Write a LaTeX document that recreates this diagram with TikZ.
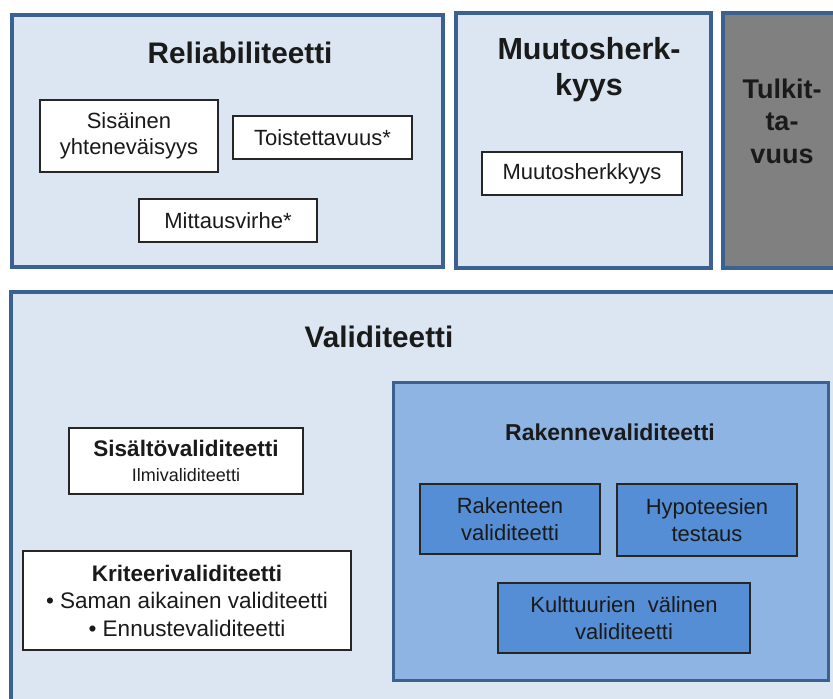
\documentclass[tikz,border=0pt]{standalone}
\usepackage{fontspec}
\setmainfont{Liberation Sans}
\definecolor{lightfill}{HTML}{DCE6F2}
\definecolor{frameblue}{HTML}{3A6190}
\definecolor{midfill}{HTML}{8EB4E3}
\definecolor{darkfill}{HTML}{558ED5}
\definecolor{grayfill}{HTML}{808080}
\definecolor{txt}{HTML}{1A1A1A}
\tikzset{
  x=1pt, y=-1pt,
  outerbox/.style={draw=frameblue, line width=3.5pt, fill=lightfill},
  whitebox/.style={draw=black!85, line width=1.2pt, fill=white, align=center, text=txt, inner sep=0pt},
  bluebox/.style={draw=black!85, line width=1.2pt, fill=darkfill, align=center, text=txt, inner sep=0pt},
  bigtitle/.style={font=\fontsize{29.7}{36}\selectfont\bfseries, align=center, text=txt, inner sep=0pt},
  midtitle/.style={font=\fontsize{23}{28}\selectfont\bfseries, align=center, text=txt, inner sep=0pt},
  bodytext/.style={font=\fontsize{22}{26.5}\selectfont},
}
\begin{document}
\begin{tikzpicture}
\useasboundingbox (0,0) rectangle (833,699);
\fill[white] (0,0) rectangle (833,699);
\begin{scope}
\clip (0,0) rectangle (833,699);
% top row boxes
\draw[outerbox] (12,15) rectangle (443,267);
\draw[outerbox] (456,13) rectangle (711,268);
\draw[outerbox, fill=grayfill] (723,13) rectangle (850,268);
% validiteetti
\draw[outerbox] (11,292) rectangle (850,720);
\draw[outerbox, fill=midfill, line width=3pt] (393,382) rectangle (828,680);
\end{scope}

% Reliabiliteetti
\node[bigtitle] (reltitle) at (240,53) {Reliabiliteetti};
\node[whitebox, bodytext, minimum width=178pt, minimum height=72pt] (sis) at (129,136) {Sisäinen\\yhteneväisyys};
\node[whitebox, bodytext, minimum width=179pt, minimum height=43pt] (toist) at (322.5,137.5) {Toistettavuus*};
\node[whitebox, bodytext, minimum width=178pt, minimum height=43pt] (mitt) at (228,220.5) {Mittausvirhe*};

% Muutosherkkyys
\node[bigtitle, font=\fontsize{30.5}{36}\selectfont\bfseries] (muuttitle) at (589,70) {Muutosherk-\\kyys};
\node[whitebox, bodytext, minimum width=200pt, minimum height=43pt] (muut) at (582,173.5) {Muutosherkkyys};

% Tulkittavuus
\node[bigtitle, font=\fontsize{27}{32.5}\selectfont\bfseries] (tulk) at (782,121) {Tulkit-\\ta-\\vuus};

% Validiteetti
\node[bigtitle] (valtitle) at (379,337) {Validiteetti};
\node[whitebox, minimum width=234pt, minimum height=66pt, font=\fontsize{22.5}{25}\selectfont] (sisalto) at (186,461)
  {{\bfseries Sisältövaliditeetti}\\{\fontsize{18}{25}\selectfont Ilmivaliditeetti}};
\node[whitebox, minimum width=328pt, minimum height=99pt, font=\fontsize{22.5}{27.5}\selectfont] (krit) at (187,600.5)
  {{\bfseries Kriteerivaliditeetti}\\• Saman aikainen validiteetti\\• Ennustevaliditeetti};

% Rakennevaliditeetti
\node[midtitle] (raktitle) at (610,432) {Rakennevaliditeetti};
\node[bluebox, bodytext, minimum width=180pt, minimum height=70pt] (rakv) at (510,519) {Rakenteen\\validiteetti};
\node[bluebox, bodytext, minimum width=180pt, minimum height=72pt] (hyp) at (707,520) {Hypoteesien\\testaus};
\node[bluebox, bodytext, minimum width=252pt, minimum height=70pt] (kult) at (624,618) {Kulttuurien\ \ välinen\\validiteetti};
\end{tikzpicture}
\end{document}
